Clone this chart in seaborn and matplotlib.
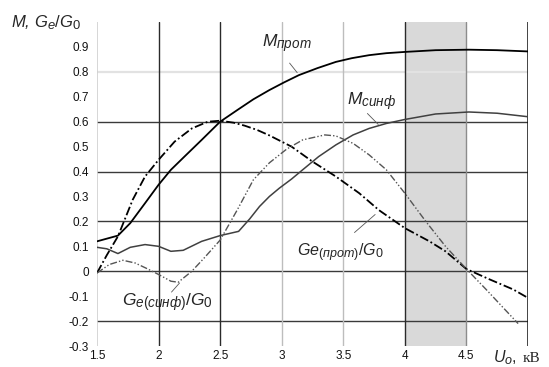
import numpy as np
import pandas as pd
import seaborn as sns
import matplotlib.pyplot as plt
import matplotlib._mathtext as mathtext_impl

# Curves
u_m_prot = [1.5, 1.67, 1.77, 1.89, 2.0, 2.1, 2.21, 2.35, 2.5, 2.64, 2.77, 2.9, 3.02, 3.14, 3.29, 3.44, 3.57, 3.71, 3.85, 4.0, 4.25, 4.52, 4.75, 5.0]
m_prot = [0.12, 0.143, 0.193, 0.273, 0.347, 0.407, 0.46, 0.527, 0.6, 0.647, 0.69, 0.727, 0.758, 0.787, 0.815, 0.84, 0.855, 0.867, 0.875, 0.88, 0.887, 0.889, 0.887, 0.882]

u_m_sinf = [1.5, 1.58, 1.67, 1.77, 1.89, 2.0, 2.1, 2.2, 2.35, 2.5, 2.65, 2.74, 2.82, 2.9, 2.98, 3.08, 3.17, 3.3, 3.44, 3.58, 3.71, 3.85, 4.0, 4.25, 4.52, 4.75, 5.0]
m_sinf = [0.096, 0.09, 0.071, 0.096, 0.107, 0.1, 0.08, 0.084, 0.12, 0.143, 0.16, 0.21, 0.26, 0.3, 0.333, 0.37, 0.407, 0.46, 0.507, 0.547, 0.573, 0.593, 0.609, 0.631, 0.639, 0.634, 0.62]

u_ge_prot = [1.5, 1.58, 1.67, 1.79, 1.89, 2.0, 2.13, 2.27, 2.4, 2.5, 2.61, 2.7, 2.8, 2.9, 3.08, 3.25, 3.44, 3.63, 3.79, 4.0, 4.2, 4.33, 4.5, 4.69, 4.88, 5.0]
ge_prot = [-0.007, 0.065, 0.14, 0.287, 0.38, 0.447, 0.52, 0.573, 0.6, 0.604, 0.596, 0.584, 0.567, 0.545, 0.5, 0.44, 0.38, 0.313, 0.245, 0.173, 0.12, 0.08, 0.009, -0.033, -0.073, -0.107]

u_ge_sinf = [1.5, 1.6, 1.71, 1.81, 1.9, 2.0, 2.1, 2.16, 2.27, 2.37, 2.5, 2.64, 2.77, 2.9, 3.04, 3.17, 3.35, 3.44, 3.58, 3.71, 3.85, 4.0, 4.17, 4.33, 4.5, 4.66, 4.8, 4.92]
ge_sinf = [-0.007, 0.027, 0.044, 0.033, 0.012, -0.013, -0.04, -0.044, 0.0, 0.053, 0.125, 0.247, 0.367, 0.435, 0.49, 0.527, 0.547, 0.543, 0.513, 0.467, 0.407, 0.313, 0.2, 0.1, 0.009, -0.073, -0.147, -0.21]

x_ticks = [1.5, 2, 2.5, 3, 3.5, 4, 4.5]
x_tick_labels = ['1.5', '2', '2.5', '3', '3.5', '4', '4.5']
y_ticks = [-0.3, -0.2, -0.1, 0, 0.1, 0.2, 0.3, 0.4, 0.5, 0.6, 0.7, 0.8, 0.9]
y_tick_labels = ['-0.3', '-0.2', '-0.1', '0', '0.1', '0.2', '0.3', '0.4', '0.5', '0.6', '0.7', '0.8', '0.9']

# working zone
zone = (4.0, 4.5)

sns.set_style('white')
plt.rcParams['font.family'] = ['Liberation Sans', 'DejaVu Sans']
plt.rcParams['mathtext.fontset'] = 'custom'
plt.rcParams['mathtext.it'] = 'Liberation Sans:italic'
plt.rcParams['mathtext.rm'] = 'Liberation Sans'
# subscripts in the original are a bit larger than matplotlib's default
mathtext_impl.SHRINK_FACTOR = 0.78

fig = plt.figure(figsize=(5.49, 3.67), dpi=100)
ax = fig.add_axes([0.1767, 0.0572, 0.785, 0.8828])

ax.axvspan(*zone, color='#d9d9d9', lw=0, zorder=0.2)

# grid, drawn by hand because the lines have different shades
for yv in [0.6, 0.4, 0.2, 0, -0.2]:
    ax.axhline(yv, color='#3a3a3a', lw=1.0, zorder=0.5)
ax.axhline(0.8, color='#e2e2e2', lw=1.6, zorder=0.5)
for xv in [2, 2.5, 4]:
    ax.axvline(xv, color='#2a2a2a', lw=1.0, zorder=0.5)
for xv in [3, 3.5]:
    ax.axvline(xv, color='#bdbdbd', lw=1.0, zorder=0.5)
ax.axvline(4.5, color='#8c8c8c', lw=1.0, zorder=0.5)
ax.axvline(1.5, color='#cfcfcf', lw=1.2, zorder=0.5)
ax.axvline(5.0, color='#111111', lw=1.1, zorder=0.5)

sns.lineplot(x=u_m_prot, y=m_prot, ax=ax, color='black', lw=1.3)
sns.lineplot(x=u_m_sinf, y=m_sinf, ax=ax, color='#404040', lw=1.1)
sns.lineplot(x=u_ge_prot, y=ge_prot, ax=ax, color='black', lw=1.3,
             linestyle=(0, (5, 1.5, 1, 1.5)))
sns.lineplot(x=u_ge_sinf, y=ge_sinf, ax=ax, color='#555555', lw=1.0,
             linestyle=(0, (5, 1.5, 1, 1.5, 1, 1.5)))

ax.set_xlim(1.5, 5.0)
ax.set_ylim(-0.3, 1.0)
for s in ax.spines.values():
    s.set_visible(False)
ax.set_xticks(x_ticks)
ax.set_xticklabels(x_tick_labels)
ax.set_yticks(y_ticks)
ax.set_yticklabels(y_tick_labels)
ax.tick_params(axis='both', length=0, labelsize=8.5, labelcolor='#111111')
ax.tick_params(axis='x', pad=3)
ax.tick_params(axis='y', pad=6)
for lab in ax.get_xticklabels() + ax.get_yticklabels():
    lab.set_family(['Liberation Sans Narrow', 'Liberation Sans'])
ax.set_xlabel('')
ax.set_ylabel('')

# curve labels with leader lines
lead = dict(arrowstyle='-', lw=0.6, color='#555555')
ax.text(2.843, 0.9, r'$M_{прот}$', fontsize=12.5, va='baseline')
ax.annotate('', xy=(3.14, 0.788), xytext=(3.05, 0.844), arrowprops=lead)
ax.text(3.531, 0.664, r'$M_{синф}$', fontsize=12.5, va='baseline')
ax.annotate('', xy=(3.80, 0.581), xytext=(3.68, 0.641), arrowprops=lead)
ax.text(3.126, 0.06, r'$Ge_{(прот)}/G_{\mathit{0}}$', fontsize=11.5, va='baseline')
ax.annotate('', xy=(3.776, 0.235), xytext=(3.574, 0.148), arrowprops=lead)
ax.text(1.702, -0.14, r'$G_{e(синф)}/G_{\mathit{0}}$', fontsize=12.5, va='baseline')
ax.annotate('', xy=(2.185, -0.039), xytext=(2.09, -0.092), arrowprops=lead)

# axis titles
fig.text(11 / 549, 1 - 27 / 367, r'$M$, $G_e/G_{\mathit{0}}$', fontsize=12,
         style='italic', va='baseline')
fig.text(493 / 549, 1 - 362 / 367, r'$U_o$,', fontsize=11.5, va='baseline')
fig.text(523 / 549, 1 - 362 / 367, 'кВ', fontsize=11, va='baseline',
         family='Liberation Serif')

fig.savefig('out.png', dpi=100)
